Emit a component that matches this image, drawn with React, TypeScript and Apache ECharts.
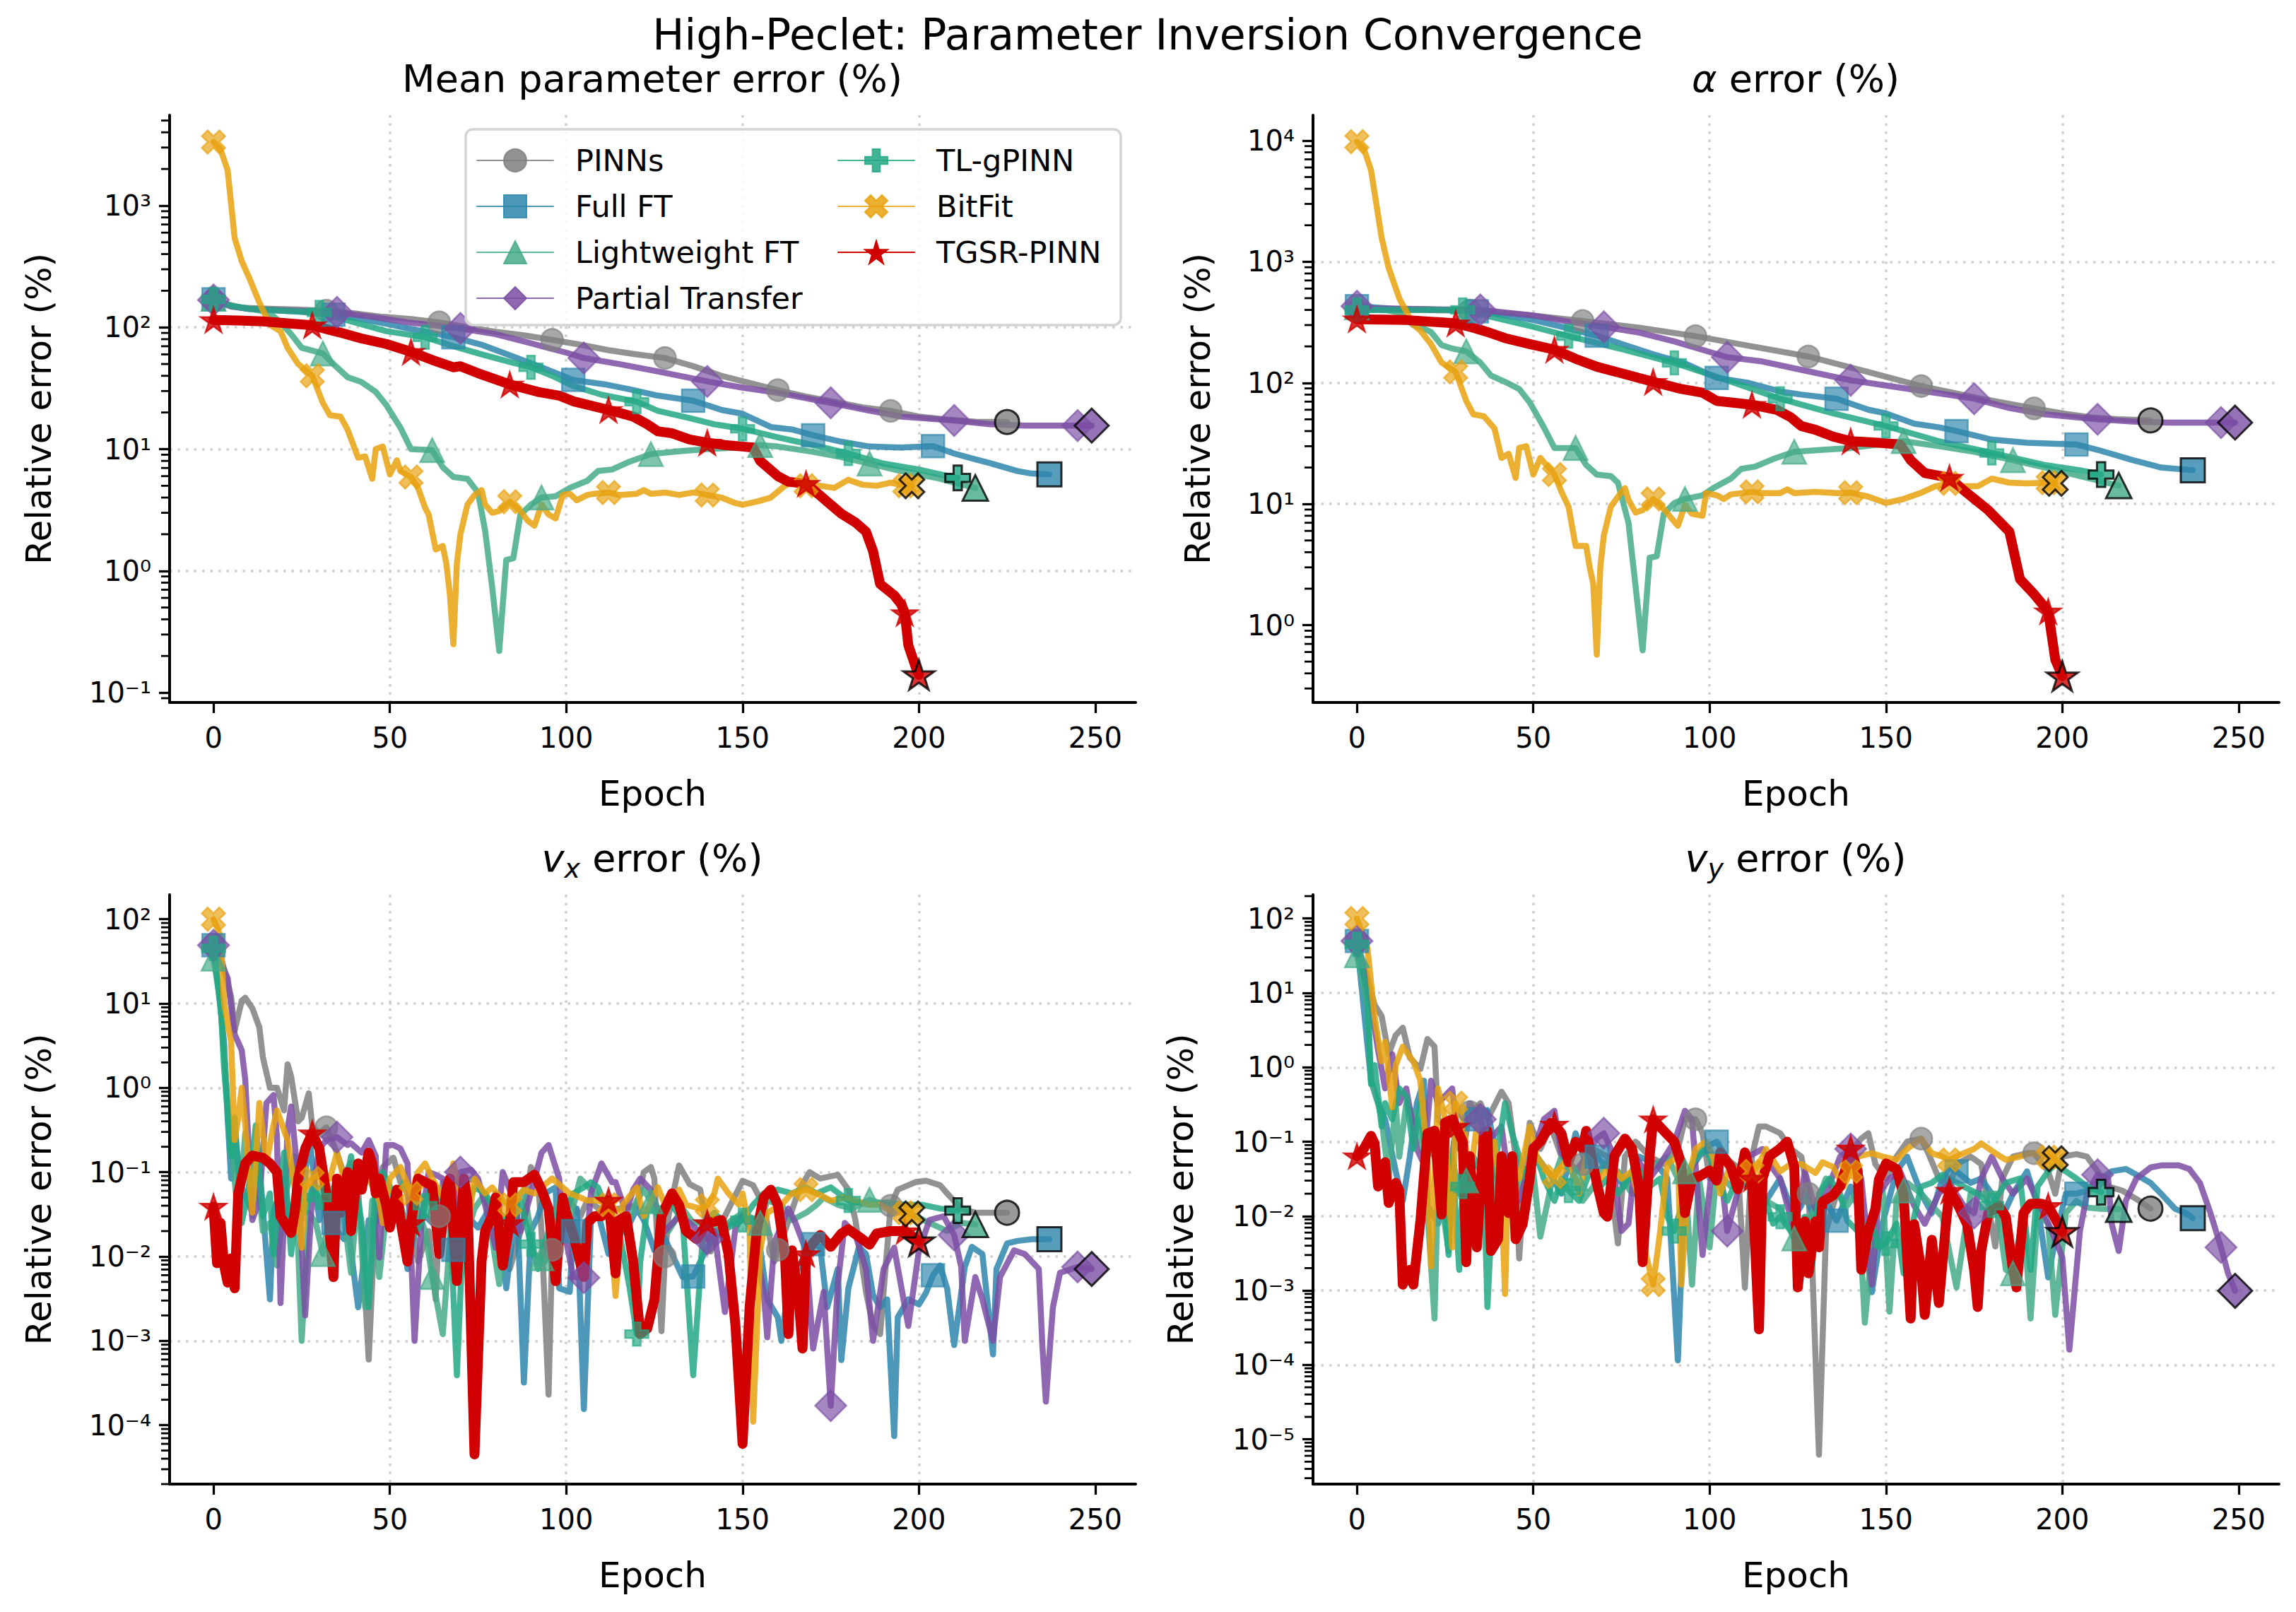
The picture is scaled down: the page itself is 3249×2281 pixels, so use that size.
import React, { useEffect, useRef } from 'react';
import * as echarts from 'echarts';

const FONT = 'DejaVu Sans';
const METHODS = ['PINNs', 'Full FT', 'Lightweight FT', 'Partial Transfer', 'TL-gPINN', 'BitFit', 'TGSR-PINN'];
const COLORS = ['#7F7F7F', '#2E86AB', '#44AA88', '#7B4EA3', '#22A884', '#E8A10E', '#D00000'];
const MARK_EVERY = [32, 34, 31, 35, 30, 28, 28];
const X_TICKS = [0, 50, 100, 150, 200, 250];

// ---- Mean parameter error (%) ----
const MEAN_PINNS = [[0,165],[8,145],[16,142],[24,140],[32,137],[40,130],[48,122],[56,117],[64,110],[72,100],[80,92],[88,86],[96,79],[104,72],[112,65],[120,60],[128,56],[136,48],[144,40],[152,35],[160,30.5],[168,27],[176,24.5],[184,22],[192,20.6],[200,18.5],[208,17.5],[216,16.8],[225,16.7]];
const MEAN_FULLFT = [[0,170],[5,150],[10,142],[17,138],[25,134],[31,129],[34,127],[42,117],[49,107],[56,97],[62,90],[68,83],[76,72],[84,59],[93,47],[102,37],[111,34],[118,31],[126,27.5],[136,25],[144,21],[150,19.5],[158,15.2],[164,14.5],[170,13],[178,11.5],[186,10.5],[195,10.3],[204,10.6],[210,9.2],[215,8.4],[220,7.7],[228,6.6],[232,6.3],[237,6.2]];
const MEAN_LIGHT = [[0,172],[5,150],[10,143],[14,136],[16,130],[19,110],[22,88],[25,68],[31,61],[34,50],[38,39],[42,35.5],[46,29.5],[49,23],[53,15],[56,10],[62,9.8],[65,7.1],[68,5.9],[72,5.7],[75,4.4],[77,2.15],[79,0.74],[81,0.22],[83,1.23],[85,1.27],[87,2.9],[90,3.5],[93,4.0],[97,4.1],[101,4.8],[106,5.5],[109,6.6],[113,6.8],[118,7.9],[124,9.1],[132,9.6],[140,10],[148,10.3],[155,10.8],[160,10.5],[170,9.5],[178,8.6],[186,7.6],[195,6.6],[205,5.8],[210,5.3],[216,4.8]];
const MEAN_PARTIAL = [[0,168],[5,148],[10,142],[20,138],[35,133],[45,122],[55,110],[65,102],[70,98],[80,88],[90,74],[100,62],[105,56],[115,50],[125,44],[140,36],[150,32],[160,29],[175,24],[185,21],[195,18.5],[210,17.2],[220,16],[230,15.6],[245,15.6],[249,15.6]];
const MEAN_TLG = [[0,170],[5,150],[10,142],[20,137],[30,133],[40,110],[49,93],[60,83],[68,70],[76,60],[84,52],[90,47],[96,40],[102,33],[110,28],[120,24.5],[126,20.6],[135,18],[142,16],[150,14.7],[160,12.5],[170,10.8],[180,9.2],[190,7.6],[200,6.8],[205,6.3],[211,5.8]];
const MEAN_BITFIT = [[0,3330],[2,2900],[4,1950],[6,540],[8,350],[10,260],[13,160],[16,105],[19,93],[21,68],[24,50],[28,40],[31,24],[33,19],[36,18.5],[38,14.5],[41,8.5],[43,8.7],[45,5.7],[46,10],[48,10.5],[50,6.2],[52,8.1],[53,6.6],[56,5.9],[58,4.8],[60,3.3],[61,2.9],[63,1.5],[65,1.6],[66,1.15],[67,0.65],[68,0.25],[69,1.15],[70,2.0],[72,3.5],[74,4.2],[76,4.6],[77,3.5],[79,3.0],[81,3.1],[84,3.7],[87,3.1],[89,2.6],[91,2.35],[93,3.5],[95,2.9],[97,2.7],[99,4.2],[101,4.3],[103,3.8],[106,4.2],[108,4.3],[112,4.4],[115,4.2],[120,4.3],[122,4.6],[124,4.3],[128,4.4],[132,4.2],[136,4.4],[140,4.2],[144,4.0],[148,3.6],[150,3.5],[154,3.7],[158,4.0],[162,5.0],[165,5.5],[168,5.0],[172,5.0],[176,4.8],[180,5.6],[184,5.1],[188,5.0],[192,5.3],[196,5.0],[198,5.0]];
const MEAN_TGSR = [[0,115],[7,114],[14,112],[21,108],[28,104],[33,95],[37,89],[42,81],[49,73],[56,63],[62,54],[68,47],[70,48],[76,41],[84,34],[92,29.5],[98,27.5],[102,24.7],[112,21],[119,18.5],[123,16],[126,14],[130,13.5],[135,12],[140,11.3],[145,10.8],[150,10.5],[153,10.3],[155,8],[160,6],[163,5.4],[168,5.2],[171,4.4],[174,3.7],[178,2.95],[182,2.5],[185,2.1],[187,1.45],[189,0.78],[193,0.63],[195,0.53],[196,0.45],[197,0.245],[199,0.165],[200,0.14]];

// ---- alpha error (%) ----
const ALPHA_PINNS = [[0,400],[16,400],[32,395],[48,365],[64,324],[80,285],[96,243],[112,200],[128,165],[144,125],[160,94],[176,75],[192,61.5],[200,56],[208,52],[216,50],[225,49]];
const ALPHA_FULLFT = [[0,430],[10,410],[17,405],[25,400],[34,390],[42,360],[50,330],[58,290],[68,245],[76,205],[84,172],[93,145],[102,110],[111,100],[120,85],[126,80],[136,74],[145,60],[150,56],[158,46],[165,43],[170,40],[180,34],[190,32],[204,31],[210,28],[220,23],[228,20],[237,19]];
const ALPHA_LIGHT = [[0,420],[8,400],[12,380],[16,300],[19,280],[21,263],[24,205],[27,192],[31,182],[35,147],[38,115],[42,102],[46,89],[49,69],[53,43],[56,29],[62,29],[65,21],[68,17.5],[72,17],[74,15],[77,7.0],[79,2.1],[81,0.62],[83,3.6],[85,3.7],[87,8.3],[90,10.2],[93,11],[98,11.8],[101,13.5],[106,16.2],[109,19.5],[113,20.4],[118,23.5],[124,27],[132,28],[140,29],[148,31],[155,33],[165,30],[175,27],[186,23],[195,20],[205,17],[216,14.2]];
const ALPHA_PARTIAL = [[0,430],[5,410],[10,410],[20,405],[35,400],[50,360],[60,320],[70,290],[80,260],[90,220],[100,180],[105,163],[115,150],[125,130],[140,105],[150,95],[160,86],[165,82],[175,74],[185,62],[195,55],[210,50],[220,48],[230,47],[245,47],[249,47]];
const ALPHA_TLG = [[0,400],[10,400],[20,400],[30,400],[40,340],[50,290],[60,243],[75,190],[90,146],[105,105],[120,74],[135,56],[150,44],[165,33],[180,26.4],[195,21],[205,19],[211,17.5]];
const ALPHA_BITFIT = [[0,9800],[2,8500],[4,5700],[7,1580],[9,890],[12,500],[16,302],[18,270],[21,209],[24,147],[28,123],[31,71],[33,55],[36,53],[39,42],[41,24],[43,26],[45,16.4],[46,29],[48,30],[50,17.5],[52,24],[56,17.5],[58,12.6],[60,9.5],[62,4.5],[65,4.5],[66,3.0],[67,2.2],[68,0.57],[69,3.0],[70,5.5],[72,9.5],[75,12.6],[76,13.5],[77,10.8],[79,8.5],[81,8.9],[84,11],[87,9.1],[91,6.6],[93,9.8],[95,8.3],[98,8.0],[99,12.3],[102,11.8],[104,11],[106,12],[112,12.6],[115,12.3],[120,12.3],[122,13.2],[124,12.3],[130,12.6],[136,12.3],[140,12.4],[145,11.5],[150,10.2],[155,11],[160,12.4],[164,14],[168,14.8],[172,14],[176,14],[180,16.2],[185,15],[190,14.8],[196,15],[198,14.8]];
const ALPHA_TGSR = [[0,335],[7,333],[14,330],[21,320],[28,310],[33,285],[37,263],[42,234],[49,209],[56,188],[62,158],[68,136],[76,118],[84,102],[92,89],[98,83],[102,71],[112,66],[119,60],[123,52],[126,44],[130,41],[135,36],[140,33],[148,32],[154,31],[157,23],[161,18],[168,16.5],[172,13],[179,8.9],[185,5.9],[188,2.4],[192,1.8],[196,1.3],[198,0.52],[200,0.38]];

// ---- v_x error (%) ----
const VX_PINNS = [[0,50],[2,37],[5,12],[6,4.8],[8,10.8],[9,11.7],[11,8.8],[13,5.2],[14,2.3],[16,1.0],[18,1.0],[20,0.54],[21,1.9],[22,1.37],[24,0.40],[25,0.44],[27,0.86],[28,0.35],[30,0.29],[32,0.34],[35,0.17],[37,0.093],[39,0.13],[42,0.020],[44,0.0006],[46,0.041],[48,0.115],[51,0.148],[53,0.076],[55,0.056],[58,0.0087],[61,0.02],[63,0.0031],[64,0.03],[65,0.076],[68,0.056],[70,0.076],[74,0.084],[77,0.05],[81,0.020],[84,0.0071],[88,0.027],[90,0.115],[92,0.084],[93,0.020],[95,0.00023],[96,0.012],[97,0.02],[99,0.025],[101,0.046],[104,0.03],[106,0.046],[111,0.033],[115,0.037],[120,0.04],[122,0.10],[124,0.115],[125,0.084],[127,0.0013],[128,0.01],[129,0.03],[132,0.12],[135,0.072],[138,0.062],[141,0.0115],[145,0.03],[150,0.079],[153,0.07],[156,0.04],[159,0.0087],[160,0.012],[162,0.02],[166,0.062],[169,0.10],[172,0.084],[177,0.093],[180,0.062],[182,0.027],[185,0.0038],[187,0.0015],[189,0.0012],[192,0.04],[194,0.062],[199,0.076],[202,0.079],[206,0.07],[208,0.056],[212,0.037],[216,0.033],[221,0.033],[225,0.033]];
const VX_FULLFT = [[0,49],[3,3.5],[4,0.44],[5,0.084],[6,0.29],[8,0.066],[11,0.033],[13,0.127],[16,0.0031],[17,0.033],[20,0.084],[22,0.02],[25,0.027],[27,0.29],[30,0.027],[32,0.062],[34,0.025],[35,0.02],[37,0.016],[38,0.025],[41,0.0025],[44,0.027],[46,0.025],[49,0.066],[53,0.03],[55,0.0071],[57,0.02],[59,0.033],[62,0.025],[64,0.056],[67,0.041],[68,0.012],[69,0.0071],[72,0.03],[75,0.022],[77,0.03],[80,0.056],[83,0.0042],[86,0.046],[88,0.00032],[90,0.02],[92,0.03],[94,0.056],[97,0.066],[98,0.0042],[101,0.0038],[102,0.02],[103,0.037],[105,0.000155],[107,0.027],[109,0.033],[112,0.0107],[114,0.027],[117,0.02],[120,0.037],[122,0.027],[125,0.0118],[127,0.02],[130,0.0107],[133,0.0057],[136,0.0058],[140,0.013],[143,0.02],[147,0.025],[150,0.03],[154,0.025],[157,0.0031],[160,0.0019],[161,0.001],[163,0.0042],[166,0.0075],[168,0.0107],[170,0.014],[172,0.013],[174,0.0025],[177,0.0071],[178,0.00059],[180,0.0042],[183,0.013],[185,0.0107],[187,0.0035],[189,0.0025],[191,0.0031],[193,0.000074],[194,0.0019],[197,0.0031],[200,0.0027],[202,0.0037],[204,0.006],[206,0.0078],[208,0.0042],[210,0.00089],[213,0.0075],[215,0.013],[218,0.0107],[221,0.00069],[222,0.0071],[225,0.0143],[228,0.0153],[232,0.016],[237,0.016]];
const VX_LIGHT = [[0,34],[2,10],[4,0.66],[5,0.24],[7,0.027],[9,0.29],[11,0.03],[12,0.155],[14,0.02],[16,0.025],[18,0.0078],[20,0.046],[23,0.155],[25,0.001],[27,0.033],[29,0.025],[31,0.0107],[34,0.066],[37,0.03],[39,0.0064],[41,0.066],[43,0.0025],[45,0.046],[47,0.0057],[49,0.033],[52,0.056],[54,0.076],[57,0.046],[60,0.02],[62,0.0057],[65,0.0012],[68,0.056],[70,0.0107],[74,0.037],[77,0.056],[81,0.0047],[84,0.037],[88,0.062],[91,0.0107],[93,0.0095],[94,0.0087],[98,0.046],[101,0.027],[104,0.084],[107,0.062],[111,0.041],[114,0.016],[117,0.022],[120,0.046],[122,0.062],[124,0.045],[126,0.03],[129,0.02],[133,0.037],[136,0.025],[140,0.025],[143,0.02],[147,0.027],[150,0.033],[155,0.025],[157,0.046],[161,0.041],[164,0.027],[168,0.033],[171,0.041],[173,0.05],[177,0.041],[181,0.037],[186,0.047],[191,0.041],[194,0.037],[199,0.03],[203,0.025],[208,0.02],[212,0.025],[216,0.024]];
const VX_PARTIAL = [[0,49],[4,20],[6,4.3],[8,2.8],[9,1.24],[11,0.027],[13,0.046],[15,0.66],[17,0.82],[18,0.26],[19,0.0028],[21,0.32],[22,0.6],[24,0.084],[26,0.002],[28,0.056],[30,0.19],[32,0.24],[35,0.26],[38,0.21],[39,0.22],[42,0.17],[44,0.24],[46,0.155],[47,0.0097],[49,0.21],[51,0.21],[53,0.19],[55,0.127],[57,0.001],[59,0.027],[61,0.10],[63,0.093],[65,0.084],[68,0.027],[70,0.10],[73,0.107],[75,0.084],[77,0.041],[80,0.0127],[82,0.10],[84,0.062],[87,0.02],[90,0.056],[93,0.17],[95,0.21],[98,0.084],[99,0.025],[102,0.0057],[105,0.0056],[107,0.056],[110,0.127],[113,0.076],[114,0.076],[117,0.033],[119,0.062],[121,0.084],[124,0.062],[126,0.035],[128,0.02],[132,0.03],[135,0.025],[140,0.016],[142,0.02],[145,0.0022],[148,0.022],[150,0.03],[153,0.02],[156,0.0038],[157,0.0011],[159,0.0145],[163,0.037],[165,0.025],[168,0.0118],[170,0.00081],[173,0.0038],[175,0.00017],[177,0.0047],[179,0.025],[182,0.018],[185,0.0071],[187,0.001],[190,0.0071],[193,0.0127],[197,0.0015],[200,0.0118],[203,0.027],[207,0.03],[210,0.018],[212,0.0075],[213,0.001],[216,0.0057],[218,0.0031],[221,0.001],[223,0.0057],[227,0.0118],[230,0.0107],[234,0.0071],[235,0.00089],[236,0.00019],[238,0.0025],[240,0.0064],[245,0.0075],[249,0.0071]];
const VX_TLG = [[0,45],[2,10],[3,1.7],[5,0.155],[6,0.44],[8,0.025],[10,0.066],[12,0.36],[14,0.03],[16,0.056],[17,0.0107],[20,0.17],[22,0.0107],[24,0.056],[26,0.033],[28,0.066],[30,0.05],[32,0.037],[34,0.02],[37,0.056],[39,0.155],[42,0.025],[44,0.0025],[46,0.076],[48,0.10],[51,0.056],[53,0.041],[56,0.016],[59,0.025],[60,0.04],[62,0.076],[64,0.056],[67,0.033],[69,0.00039],[71,0.033],[74,0.066],[77,0.056],[79,0.041],[82,0.03],[84,0.02],[87,0.046],[90,0.014],[92,0.0071],[95,0.02],[99,0.03],[102,0.056],[105,0.066],[107,0.076],[109,0.066],[113,0.025],[115,0.02],[118,0.0042],[120,0.0012],[121,0.0087],[123,0.037],[126,0.033],[129,0.046],[133,0.027],[136,0.00039],[139,0.025],[142,0.033],[146,0.022],[150,0.027],[153,0.041],[156,0.056],[160,0.062],[164,0.056],[168,0.066],[171,0.056],[175,0.066],[180,0.046],[186,0.041],[191,0.044],[196,0.041],[201,0.041],[206,0.037],[211,0.035]];
const VX_BITFIT = [[0,100],[2,63],[3,10],[5,3.5],[6,0.24],[7,0.44],[8,1.0],[9,0.36],[11,0.033],[13,0.66],[15,0.127],[17,0.36],[18,0.54],[21,0.24],[23,0.066],[25,0.0127],[26,0.066],[28,0.084],[31,0.10],[33,0.084],[35,0.17],[37,0.084],[39,0.10],[41,0.066],[44,0.084],[47,0.046],[48,0.025],[50,0.084],[53,0.115],[56,0.056],[58,0.10],[60,0.127],[62,0.084],[65,0.05],[68,0.127],[70,0.056],[72,0.02],[74,0.084],[77,0.056],[79,0.066],[82,0.046],[84,0.041],[88,0.062],[91,0.056],[93,0.066],[96,0.084],[99,0.066],[101,0.056],[104,0.05],[106,0.046],[109,0.046],[112,0.041],[114,0.0034],[116,0.041],[120,0.066],[122,0.03],[126,0.066],[128,0.041],[132,0.062],[134,0.041],[138,0.037],[140,0.04],[142,0.056],[143,0.084],[146,0.056],[149,0.041],[150,0.056],[152,0.02],[153,0.00011],[155,0.0118],[157,0.033],[161,0.041],[164,0.056],[168,0.062],[171,0.056],[175,0.046],[179,0.05],[182,0.046],[186,0.041],[189,0.041],[193,0.033],[196,0.033],[198,0.032]];
const VX_TGSR = [[0,0.039],[1,0.0083],[2,0.025],[3,0.0078],[4,0.0049],[5,0.0095],[6,0.0042],[7,0.056],[9,0.127],[11,0.157],[14,0.148],[16,0.127],[18,0.10],[19,0.030],[22,0.019],[23,0.033],[24,0.084],[26,0.19],[28,0.29],[30,0.19],[32,0.056],[34,0.0057],[35,0.084],[36,0.033],[38,0.10],[39,0.020],[41,0.127],[42,0.062],[44,0.17],[45,0.127],[46,0.056],[47,0.084],[49,0.040],[50,0.022],[52,0.062],[53,0.027],[55,0.0087],[56,0.025],[58,0.084],[60,0.076],[62,0.069],[64,0.0107],[66,0.062],[67,0.084],[69,0.0051],[71,0.084],[72,0.046],[74,0.000045],[76,0.0087],[77,0.020],[79,0.030],[80,0.050],[82,0.0078],[84,0.025],[85,0.076],[88,0.076],[91,0.093],[93,0.062],[95,0.037],[97,0.0051],[99,0.050],[100,0.033],[102,0.018],[105,0.0057],[106,0.025],[108,0.030],[110,0.030],[112,0.046],[114,0.0063],[115,0.027],[117,0.030],[119,0.0087],[121,0.0012],[123,0.0014],[125,0.0031],[127,0.030],[130,0.056],[132,0.041],[134,0.020],[137,0.016],[140,0.025],[144,0.027],[146,0.0107],[148,0.0015],[150,0.00006],[152,0.0025],[154,0.020],[156,0.050],[158,0.062],[160,0.041],[162,0.0107],[163,0.0012],[164,0.0118],[166,0.0028],[167,0.00081],[168,0.0107],[170,0.0145],[172,0.018],[175,0.013],[178,0.0187],[180,0.021],[184,0.016],[186,0.0138],[188,0.0187],[192,0.020],[196,0.020],[200,0.0153]];

// ---- v_y error (%) ----
const VY_PINNS = [[0,50],[3,15.8],[5,6.9],[7,4.9],[9,1.5],[11,2.7],[13,3.4],[15,1.35],[18,0.95],[20,2.4],[22,1.9],[23,0.2],[25,0.16],[27,0.13],[30,0.07],[32,0.25],[34,0.29],[35,0.33],[37,0.2],[41,0.47],[43,0.33],[45,0.063],[46,0.0027],[48,0.063],[49,0.18],[52,0.08],[55,0.16],[58,0.063],[63,0.04],[64,0.05],[67,0.08],[71,0.063],[74,0.0043],[76,0.063],[79,0.1],[83,0.063],[87,0.05],[91,0.08],[93,0.2],[96,0.2],[98,0.13],[100,0.032],[104,0.063],[108,0.045],[110,0.0011],[112,0.063],[114,0.16],[116,0.16],[120,0.13],[123,0.08],[126,0.063],[128,0.02],[129,0.003],[131,0.0000062],[133,0.0063],[136,0.02],[139,0.063],[143,0.11],[145,0.13],[147,0.05],[150,0.032],[153,0.063],[156,0.1],[160,0.11],[162,0.07],[165,0.032],[168,0.025],[170,0.05],[174,0.063],[177,0.05],[181,0.0039],[183,0.032],[186,0.063],[190,0.07],[192,0.07],[196,0.04],[198,0.02],[200,0.063],[204,0.068],[207,0.063],[210,0.04],[213,0.025],[217,0.022],[221,0.017],[225,0.0126]];
const VY_FULLFT = [[0,50],[4,0.66],[6,0.33],[8,0.2],[11,0.04],[13,0.016],[15,0.063],[17,0.33],[19,0.66],[20,0.014],[23,0.0079],[26,0.032],[28,0.14],[30,0.16],[34,0.2],[37,0.26],[41,0.032],[44,0.063],[48,0.04],[51,0.063],[55,0.035],[58,0.02],[62,0.13],[65,0.05],[68,0.063],[72,0.04],[76,0.025],[80,0.063],[85,0.05],[88,0.032],[91,0.000115],[93,0.032],[97,0.063],[100,0.09],[102,0.1],[106,0.05],[109,0.025],[113,0.032],[116,0.016],[120,0.032],[124,0.0098],[126,0.0138],[127,0.02],[130,0.0087],[133,0.016],[136,0.0087],[140,0.025],[143,0.0098],[146,0.00095],[149,0.0079],[153,0.04],[156,0.063],[160,0.02],[163,0.011],[166,0.032],[168,0.045],[170,0.04],[174,0.028],[177,0.032],[180,0.02],[183,0.0098],[186,0.02],[190,0.04],[193,0.0138],[196,0.0015],[198,0.0049],[201,0.02],[204,0.02],[207,0.022],[211,0.032],[214,0.04],[218,0.043],[221,0.036],[225,0.028],[228,0.02],[232,0.0125],[235,0.011],[237,0.0094]];
const VY_LIGHT = [[0,32],[3,6.9],[4,0.66],[6,0.33],[7,0.2],[9,0.032],[11,0.33],[12,0.063],[14,0.33],[17,0.2],[19,0.063],[22,0.00042],[23,0.032],[26,0.0034],[27,0.063],[29,0.02],[31,0.03],[32,0.05],[34,0.0125],[37,0.02],[40,0.063],[42,0.032],[45,0.05],[48,0.0138],[50,0.04],[52,0.0053],[55,0.025],[58,0.063],[62,0.032],[64,0.016],[67,0.025],[70,0.05],[74,0.04],[78,0.02],[81,0.032],[85,0.05],[88,0.063],[91,0.032],[93,0.04],[95,0.0012],[97,0.032],[100,0.0038],[102,0.04],[106,0.025],[109,0.032],[113,0.022],[116,0.016],[120,0.0125],[123,0.0063],[124,0.005],[126,0.002],[127,0.0063],[130,0.0138],[133,0.032],[136,0.02],[139,0.0138],[142,0.022],[144,0.00037],[147,0.011],[149,0.025],[151,0.00052],[153,0.016],[155,0.022],[156,0.028],[160,0.02],[163,0.0138],[166,0.0098],[170,0.0011],[174,0.02],[177,0.02],[181,0.02],[184,0.0019],[186,0.0017],[189,0.011],[191,0.00042],[193,0.011],[196,0.0079],[198,0.00047],[201,0.011],[204,0.016],[207,0.013],[211,0.0125],[216,0.0124]];
const VY_PARTIAL = [[0,50],[4,6.9],[6,1.7],[8,0.52],[10,1.5],[12,0.33],[14,0.52],[17,0.08],[19,0.05],[21,0.66],[23,0.33],[27,0.52],[29,0.08],[32,0.33],[35,0.2],[37,0.1],[41,0.16],[43,0.032],[46,0.016],[49,0.05],[53,0.2],[56,0.26],[58,0.07],[62,0.04],[65,0.063],[68,0.11],[70,0.13],[72,0.08],[75,0.0063],[77,0.0079],[79,0.063],[83,0.032],[86,0.05],[90,0.1],[93,0.26],[95,0.2],[98,0.003],[101,0.063],[103,0.05],[105,0.0063],[109,0.032],[111,0.063],[115,0.08],[117,0.05],[120,0.032],[124,0.0063],[126,0.02],[127,0.04],[130,0.0125],[133,0.02],[137,0.063],[140,0.08],[143,0.032],[146,0.0012],[148,0.02],[151,0.032],[154,0.04],[158,0.0138],[161,0.0079],[165,0.02],[168,0.028],[172,0.0138],[175,0.011],[177,0.032],[180,0.063],[183,0.032],[186,0.02],[190,0.032],[193,0.016],[197,0.0063],[200,0.0028],[202,0.00016],[205,0.0063],[207,0.02],[210,0.036],[213,0.032],[214,0.0079],[216,0.0034],[218,0.016],[221,0.032],[225,0.045],[228,0.048],[233,0.048],[236,0.043],[239,0.028],[242,0.011],[245,0.0038],[247,0.0017],[249,0.00099]];
const VY_TLG = [[0,45],[3,10],[4,0.59],[5,1.07],[7,0.16],[8,0.33],[10,0.2],[12,0.52],[14,0.41],[16,0.08],[18,0.33],[19,0.1],[22,0.063],[23,0.13],[26,0.003],[27,0.063],[29,0.0019],[30,0.025],[33,0.063],[36,0.032],[37,0.0006],[39,0.05],[41,0.16],[42,0.33],[44,0.13],[46,0.063],[48,0.032],[51,0.063],[53,0.032],[56,0.016],[58,0.032],[60,0.022],[63,0.016],[66,0.04],[69,0.025],[71,0.032],[74,0.02],[77,0.032],[79,0.05],[83,0.025],[86,0.032],[88,0.0098],[90,0.0063],[93,0.02],[95,0.05],[98,0.08],[100,0.063],[102,0.032],[105,0.016],[108,0.032],[110,0.05],[113,0.032],[116,0.016],[118,0.0079],[120,0.0098],[123,0.0063],[126,0.003],[127,0.0098],[129,0.0019],[131,0.02],[134,0.032],[137,0.02],[139,0.0087],[142,0.0063],[146,0.0087],[148,0.0038],[150,0.0043],[153,0.0079],[155,0.0017],[158,0.0098],[160,0.025],[163,0.028],[166,0.036],[168,0.032],[172,0.025],[176,0.02],[180,0.0138],[182,0.02],[184,0.028],[188,0.032],[191,0.0019],[193,0.025],[196,0.04],[198,0.05],[201,0.04],[204,0.032],[207,0.025],[211,0.021]];
const VY_BITFIT = [[0,100],[3,40],[5,4.9],[7,1.2],[8,2.2],[10,0.29],[11,1.06],[13,1.9],[16,1.2],[18,0.66],[20,0.063],[21,0.0021],[23,0.52],[25,0.2],[27,0.0038],[28,0.33],[30,0.2],[32,0.032],[34,0.16],[36,0.063],[39,0.1],[41,0.016],[42,0.0009],[43,0.05],[46,0.032],[49,0.16],[51,0.063],[54,0.04],[56,0.034],[60,0.063],[63,0.02],[65,0.063],[69,0.032],[72,0.05],[75,0.032],[78,0.04],[80,0.016],[82,0.003],[84,0.0012],[86,0.0063],[88,0.05],[91,0.063],[92,0.0012],[94,0.032],[96,0.08],[99,0.1],[101,0.063],[103,0.02],[106,0.05],[109,0.032],[112,0.04],[114,0.05],[116,0.08],[120,0.04],[123,0.05],[126,0.05],[130,0.038],[132,0.053],[135,0.046],[138,0.025],[140,0.04],[142,0.063],[146,0.07],[149,0.063],[153,0.057],[156,0.08],[160,0.11],[163,0.07],[166,0.063],[168,0.057],[172,0.07],[175,0.08],[177,0.095],[181,0.07],[184,0.057],[188,0.063],[191,0.07],[195,0.063],[196,0.062],[198,0.059]];
const VY_TGSR = [[0,0.064],[2,0.081],[4,0.12],[5,0.095],[6,0.025],[8,0.053],[9,0.015],[11,0.028],[12,0.022],[13,0.0012],[15,0.0019],[16,0.0012],[18,0.0087],[20,0.129],[22,0.14],[24,0.0105],[25,0.18],[27,0.2],[28,0.16],[30,0.10],[31,0.0024],[32,0.064],[34,0.0038],[36,0.129],[37,0.14],[38,0.0034],[40,0.0049],[41,0.064],[43,0.011],[44,0.064],[45,0.0049],[47,0.0078],[49,0.032],[50,0.081],[52,0.10],[55,0.18],[56,0.17],[58,0.129],[60,0.053],[62,0.10],[64,0.081],[65,0.14],[68,0.028],[70,0.011],[71,0.0098],[73,0.064],[76,0.11],[78,0.081],[80,0.025],[81,0.0024],[83,0.064],[84,0.20],[87,0.14],[90,0.10],[92,0.05],[93,0.011],[95,0.032],[97,0.034],[100,0.041],[102,0.03],[103,0.072],[106,0.046],[108,0.023],[110,0.072],[112,0.032],[114,0.0003],[115,0.032],[117,0.064],[120,0.081],[122,0.10],[124,0.046],[125,0.0011],[126,0.003],[127,0.0085],[128,0.0017],[130,0.0085],[131,0.0038],[132,0.0156],[135,0.019],[137,0.025],[139,0.051],[140,0.081],[142,0.04],[143,0.0019],[145,0.0062],[147,0.0125],[148,0.031],[150,0.051],[153,0.043],[155,0.019],[157,0.00042],[158,0.0078],[160,0.0019],[161,0.00047],[163,0.0048],[165,0.00068],[167,0.0078],[168,0.022],[170,0.0156],[173,0.0078],[175,0.0019],[176,0.0006],[177,0.0034],[179,0.011],[182,0.0137],[184,0.0098],[186,0.0019],[187,0.0011],[189,0.011],[191,0.0147],[194,0.0147],[196,0.0137],[200,0.0062]];

const PANEL_DATA = [
  [MEAN_PINNS, MEAN_FULLFT, MEAN_LIGHT, MEAN_PARTIAL, MEAN_TLG, MEAN_BITFIT, MEAN_TGSR],
  [ALPHA_PINNS, ALPHA_FULLFT, ALPHA_LIGHT, ALPHA_PARTIAL, ALPHA_TLG, ALPHA_BITFIT, ALPHA_TGSR],
  [VX_PINNS, VX_FULLFT, VX_LIGHT, VX_PARTIAL, VX_TLG, VX_BITFIT, VX_TGSR],
  [VY_PINNS, VY_FULLFT, VY_LIGHT, VY_PARTIAL, VY_TLG, VY_BITFIT, VY_TGSR],
];
const Y_RANGE = [[0.083, 5530], [0.23, 16200], [2.0e-5, 195], [2.5e-6, 209]];
const Y_MAJOR = [
  [0.1, 1, 10, 100, 1000],
  [1, 10, 100, 1000, 10000],
  [0.0001, 0.001, 0.01, 0.1, 1, 10, 100],
  [0.00001, 0.0001, 0.001, 0.01, 0.1, 1, 10, 100],
];
const X_MIN = -12.45;
const X_MAX = 261.45;

const PLUS_PATH = 'path://M1,0L2,0L2,1L3,1L3,2L2,2L2,3L1,3L1,2L0,2L0,1L1,1Z';
const X_PATH = 'path://M283,71L212,141L283,212L212,283L141,212L71,283L0,212L71,141L0,71L71,0L141,71L212,0Z';
const STAR_PATH = 'path://M100,0L122.5,69.1L195.1,69.1L136.3,111.8L158.8,180.9L100,138.2L41.2,180.9L63.7,111.8L4.9,69.1L77.5,69.1Z';
const SYMBOLS = ['circle', 'rect', 'triangle', 'diamond', PLUS_PATH, X_PATH, STAR_PATH];
const MARK_SIZE = [31, 32, 34, 44, 33, 33, 36];
const FINAL_SIZE = [34, 34, 36, 48, 35, 35, 44];

const GRIDS = [
  { left: 240, top: 163, width: 1367, height: 831 },
  { left: 1858, top: 163, width: 1367, height: 831 },
  { left: 240, top: 1266, width: 1367, height: 834 },
  { left: 1858, top: 1266, width: 1367, height: 834 },
];
const NAME_GAPS = [160, 138, 160, 162];

const SUP: Record<string, string> = { '0': '⁰', '1': '¹', '2': '²', '3': '³', '4': '⁴', '5': '⁵', '6': '⁶', '7': '⁷', '8': '⁸', '9': '⁹', '-': '⁻' };
function logLabel(v: number) {
  const e = Math.log10(v);
  const r = Math.round(e);
  if (Math.abs(e - r) > 1e-6) return '';
  return '10' + String(r).split('').map((c) => SUP[c]).join('');
}
function rgba(hex: string, a: number) {
  const n = parseInt(hex.slice(1), 16);
  return `rgba(${(n >> 16) & 255},${(n >> 8) & 255},${n & 255},${a})`;
}
// decorative minor tick positions of a log axis (2..9 x 10^n)
function minorTicks(min: number, max: number) {
  const out: number[] = [];
  for (let e = Math.floor(Math.log10(min)); e <= Math.ceil(Math.log10(max)); e++) {
    for (let k = 2; k <= 9; k++) {
      const v = k * Math.pow(10, e);
      if (v >= min && v <= max) out.push(v);
    }
  }
  return out;
}

function buildOption() {
  const grid = GRIDS.map((g) => ({ ...g, containLabel: false, outerBoundsMode: 'none' }));
  const xAxis = GRIDS.map((_, p) => ({
    type: 'value', gridIndex: p, min: X_MIN, max: X_MAX,
    name: 'Epoch', nameLocation: 'middle', nameGap: 104,
    nameTextStyle: { fontSize: 50, fontFamily: FONT, color: '#000' },
    axisLine: { show: true, onZero: false, lineStyle: { color: '#000', width: 4 } },
    axisTick: { show: true, length: 15, lineStyle: { color: '#000', width: 3.3 }, customValues: X_TICKS },
    axisLabel: { fontSize: 40, fontFamily: FONT, color: '#000', margin: 30, customValues: X_TICKS,
      formatter: (v: number) => (X_TICKS.indexOf(v) >= 0 ? String(v) : '') },
    splitLine: { show: true, showMinLine: false, showMaxLine: false, lineStyle: { color: '#cfcfcf', width: 3.5, type: [3.5, 8] } },
  }));
  const yAxis = GRIDS.map((_, p) => ({
    type: 'log', logBase: 10, gridIndex: p, min: Y_RANGE[p][0], max: Y_RANGE[p][1],
    name: 'Relative error (%)', nameLocation: 'middle', nameGap: NAME_GAPS[p],
    nameTextStyle: { fontSize: 50, fontFamily: FONT, color: '#000' },
    axisLine: { show: true, onZero: false, lineStyle: { color: '#000', width: 4 } },
    axisTick: { show: true, length: 15, lineStyle: { color: '#000', width: 3.3 }, customValues: Y_MAJOR[p] },
    axisLabel: { fontSize: 40, fontFamily: FONT, color: '#000', margin: 26, customValues: Y_MAJOR[p], formatter: logLabel },
    splitLine: { show: true, showMinLine: false, showMaxLine: false, lineStyle: { color: '#cfcfcf', width: 3.5, type: [3.5, 8] } },
  }));

  const series: any[] = [];
  const finals: any[] = [];
  const ticks: any[] = [];
  PANEL_DATA.forEach((arrs, p) => {
    arrs.forEach((arr, m) => {
      const c = COLORS[m];
      const isT = m === 6;
      const a = isT ? 1 : 0.85;
      series.push({
        type: 'line', name: METHODS[m], xAxisIndex: p, yAxisIndex: p, data: arr,
        showSymbol: false, symbol: SYMBOLS[m], symbolKeepAspect: true, silent: true,
        lineStyle: { color: rgba(c, a), width: isT ? 14 : 8.5, join: 'round', cap: 'round' },
        itemStyle: { color: rgba(c, a), borderColor: rgba(c, a), borderWidth: 2 },
        emphasis: { disabled: true }, z: 2,
      });
      const every = MARK_EVERY[m];
      series.push({
        type: 'scatter', name: METHODS[m], xAxisIndex: p, yAxisIndex: p,
        data: arr.filter((d, i) => d[0] % every === 0 && i !== arr.length - 1),
        symbol: SYMBOLS[m], symbolSize: MARK_SIZE[m], symbolKeepAspect: true, silent: true,
        itemStyle: { color: rgba(c, a), borderColor: rgba(c, a), borderWidth: 2.5 },
        emphasis: { disabled: true }, z: 2,
      });
      finals.push({
        type: 'scatter', name: METHODS[m], xAxisIndex: p, yAxisIndex: p,
        data: [arr[arr.length - 1]],
        symbol: SYMBOLS[m], symbolSize: FINAL_SIZE[m], symbolKeepAspect: true, silent: true,
        itemStyle: { color: c, borderColor: '#000', borderWidth: 3 },
        emphasis: { disabled: true }, z: 5,
      });
    });
    // minor ticks of the log y axis, placed through the axis scale
    ticks.push({
      type: 'custom', name: 'minor-ticks', xAxisIndex: p, yAxisIndex: p, silent: true, clip: false, z: 6,
      data: minorTicks(Y_RANGE[p][0], Y_RANGE[p][1]).map((v) => [X_MIN, v]),
      renderItem: (params: any, api: any) => {
        const pt = api.coord([api.value(0), api.value(1)]);
        return {
          type: 'line',
          shape: { x1: pt[0] - 12, y1: pt[1], x2: pt[0] - 1, y2: pt[1] },
          style: { stroke: '#000', lineWidth: 2.8 },
        };
      },
    });
  });

  const legendCommon = {
    orient: 'vertical', itemWidth: 108, itemHeight: 40, itemGap: 15, padding: 0,
    selectedMode: false, z: 110,
    textStyle: { fontSize: 43, fontFamily: FONT, color: '#000', lineHeight: 50, padding: [0, 0, 0, 26] },
  };

  const titleRich = {
    i: { fontStyle: 'italic', fontSize: 54, fontFamily: FONT, fill: '#000' },
    s: { fontStyle: 'italic', fontSize: 38, fontFamily: FONT, fill: '#000', padding: [30, 0, 0, 0] },
    n: { fontSize: 54, fontFamily: FONT, fill: '#000' },
  };
  const title = (x: number, y: number, text: string) => ({
    type: 'text', x, y, z: 120,
    style: { text, fontSize: 54, fontFamily: FONT, fill: '#000', align: 'center', verticalAlign: 'middle', rich: titleRich },
  });

  return {
    animation: false,
    backgroundColor: '#ffffff',
    grid, xAxis, yAxis,
    legend: [
      { ...legendCommon, data: METHODS.slice(0, 4), left: 674, top: 202 },
      { ...legendCommon, data: METHODS.slice(4), left: 1185, top: 202 },
    ],
    graphic: [
      { type: 'rect', z: 100, shape: { x: 659, y: 183, width: 927, height: 277, r: 10 },
        style: { fill: 'rgba(255,255,255,0.82)', stroke: '#d4d4d4', lineWidth: 3.5 } },
      { type: 'text', x: 1624, y: 49, z: 120,
        style: { text: 'High-Peclet: Parameter Inversion Convergence', fontSize: 60, fontFamily: FONT, fill: '#000', align: 'center', verticalAlign: 'middle' } },
      title(923, 111, '{n|Mean parameter error (%)}'),
      title(2541, 111, '{i|α}{n| error (%)}'),
      title(923, 1214, '{i|v}{s|x}{n| error (%)}'),
      title(2541, 1214, '{i|v}{s|y}{n| error (%)}'),
    ],
    series: [...series, ...finals, ...ticks],
  };
}

export default function App() {
  const ref = useRef<HTMLDivElement>(null);
  useEffect(() => {
    if (!ref.current) return;
    const chart = echarts.init(ref.current, null, { renderer: 'svg' });
    chart.setOption(buildOption() as any);
    return () => chart.dispose();
  }, []);
  return (
    <div
      ref={ref}
      style={{ position: 'absolute', left: 0, top: 0, width: 3249, height: 2281, background: '#fff' }}
    />
  );
}
